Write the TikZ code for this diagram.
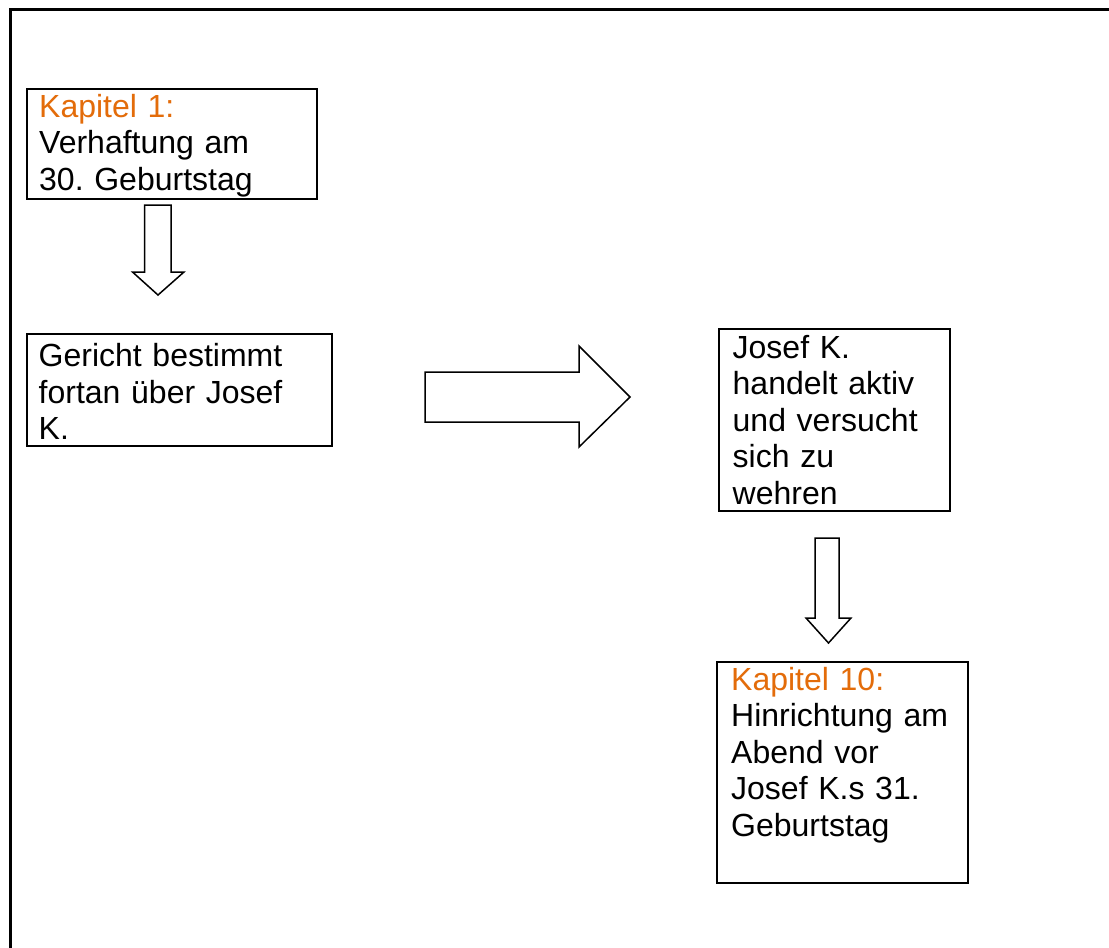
\documentclass[tikz,border=0pt]{standalone}
\usepackage{fontspec}
\setmainfont{Liberation Sans}
\definecolor{kapitel}{HTML}{E36C0A}
\begin{document}
\begin{tikzpicture}[x=1pt,y=-1pt,
  frame/.style={line width=3pt},
  box/.style={draw,line width=2.2pt,inner sep=0pt,anchor=north west},
  txt/.style={anchor=base west,inner sep=0pt,text width=300pt,align=left,
    font=\fontsize{32}{36.5}\selectfont\frenchspacing},
  blockarrow/.style={draw,line width=1.5pt,line join=miter,fill=white}]
\useasboundingbox (0,0) rectangle (1109,948);
% outer frame (only left and top edges visible)
\coordinate (fl) at (10,948);
\coordinate (ftl) at (10,9);
\coordinate (ftr) at (1109,9);
\draw[frame] (fl) -- (ftl) -- (ftr);
% boxes
\node[box,minimum width=290pt,minimum height=110pt] (b1) at (26,88) {};
\node[box,minimum width=305pt,minimum height=112pt] (b2) at (26,333) {};
\node[box,minimum width=231pt,minimum height=182pt] (b3) at (718,328) {};
\node[box,minimum width=251pt,minimum height=221pt] (b4) at (716,661) {};
% texts
\node[txt] (t1) at (39,117.3) {\textcolor{kapitel}{Kapitel 1:}\\Verhaftung am\\30. Geburtstag};
\node[txt] (t2) at (38.5,366.7) {Gericht bestimmt\\fortan über Josef\\K.};
\node[txt] (t3) at (732.5,358.3) {Josef K.\\handelt aktiv\\und versucht\\sich zu\\wehren};
\node[txt] (t4) at (731,690) {\textcolor{kapitel}{Kapitel 10:}\\Hinrichtung am\\Abend vor\\Josef K.s 31.\\Geburtstag};
% block arrows
\draw[blockarrow] (144.5,205) -- (171,205) -- (171,272) -- (184,272) -- (158,295)
  -- (132.5,272) -- (144.5,272) -- cycle;
\draw[blockarrow] (425,372) -- (579,372) -- (579,346) -- (630,397) -- (579,447)
  -- (579,422) -- (425,422) -- cycle;
\draw[blockarrow] (815,538) -- (839,538) -- (839,618) -- (851,618) -- (828.5,643)
  -- (806,618) -- (815,618) -- cycle;
\end{tikzpicture}
\end{document}
